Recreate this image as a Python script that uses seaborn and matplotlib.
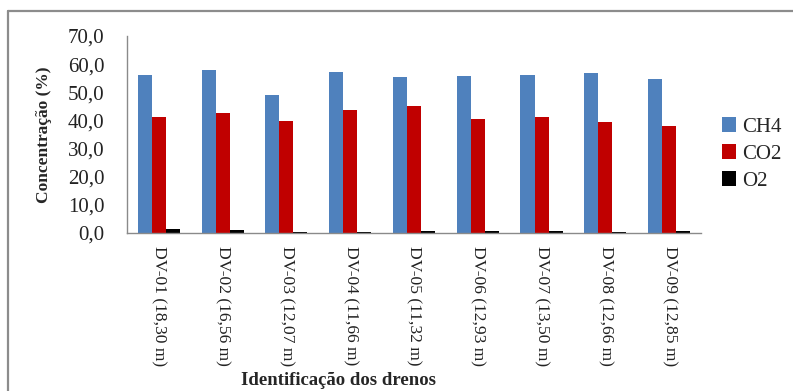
import matplotlib
matplotlib.use("Agg")
import matplotlib.pyplot as plt
from matplotlib.lines import Line2D
import seaborn as sns
import pandas as pd

# Drenos e concentrações medidas (%)
drenos = ["DV-01 (18,30 m)", "DV-02 (16,56 m)", "DV-03 (12,07 m)", "DV-04 (11,66 m)",
          "DV-05 (11,32 m)", "DV-06 (12,93 m)", "DV-07 (13,50 m)", "DV-08 (12,66 m)",
          "DV-09 (12,85 m)"]
ch4 = [56.1, 57.9, 48.9, 57.2, 55.6, 55.9, 56.1, 56.9, 54.6]
co2 = [41.1, 42.6, 39.9, 43.7, 45.1, 40.4, 41.1, 39.3, 38.0]
o2 = [1.4, 1.0, 0.5, 0.5, 0.7, 0.7, 0.7, 0.3, 0.7]
gases = ["CH4", "CO2", "O2"]
y_ticks = [0, 10, 20, 30, 40, 50, 60, 70]

df = pd.DataFrame({
    "Dreno": drenos * 3,
    "Gás": [g for g in gases for _ in drenos],
    "Concentração": ch4 + co2 + o2,
})

sns.set_theme(style="white")
plt.rcParams["font.family"] = ["Liberation Serif", "DejaVu Serif"]

fig = plt.figure(figsize=(7.93, 3.91), dpi=100)
ax = fig.add_axes([0.160, 0.404, 0.724, 0.504])

palette = {"CH4": "#4F81BD", "CO2": "#C00000", "O2": "#000000"}
sns.barplot(data=df, x="Dreno", y="Concentração", hue="Gás", hue_order=gases,
            palette=palette, width=0.66, linewidth=0, saturation=1, ax=ax)

ax.set_ylim(0, 70)
ax.set_yticks(y_ticks)
ax.set_yticklabels([f"{v:.1f}".replace(".", ",") for v in y_ticks], fontsize=15)
ax.set_xlim(-0.5, len(drenos) - 0.5)
ax.set_xticks(range(len(drenos)))
ax.set_xticklabels(drenos, rotation=-90, fontsize=12.6, va="top", ha="center")
ax.tick_params(axis="y", length=0, pad=16, colors="#222222")
ax.tick_params(axis="x", length=0, pad=9, colors="#222222")

for side in ["top", "right"]:
    ax.spines[side].set_visible(False)
for side in ["left", "bottom"]:
    ax.spines[side].set_color("#8a8a8a")
    ax.spines[side].set_linewidth(1.0)

ax.set_ylabel("Concentração (%)", fontsize=12.5, fontweight="bold")
ax.set_xlabel("Identificação dos drenos", fontsize=13.5, fontweight="bold")
ax.yaxis.set_label_coords(-0.13, 0.5)
ax.xaxis.set_label_coords(0.368, -0.705)

handles, labels = ax.get_legend_handles_labels()
ax.legend(handles, labels, frameon=False, fontsize=15, loc="center left",
          bbox_to_anchor=(703 / 793, 1 - 154 / 391), bbox_transform=fig.transFigure,
          handlelength=0.7, handleheight=0.7, handletextpad=0.3, labelspacing=0.35)

# moldura do gráfico
fig.add_artist(Line2D([8 / 793, 8 / 793], [0, 1 - 11 / 391], color="#8c8c8c", lw=1.6))
fig.add_artist(Line2D([8 / 793, 1], [1 - 11 / 391, 1 - 11 / 391], color="#8c8c8c", lw=1.6))

fig.savefig("out.png", dpi=100)
